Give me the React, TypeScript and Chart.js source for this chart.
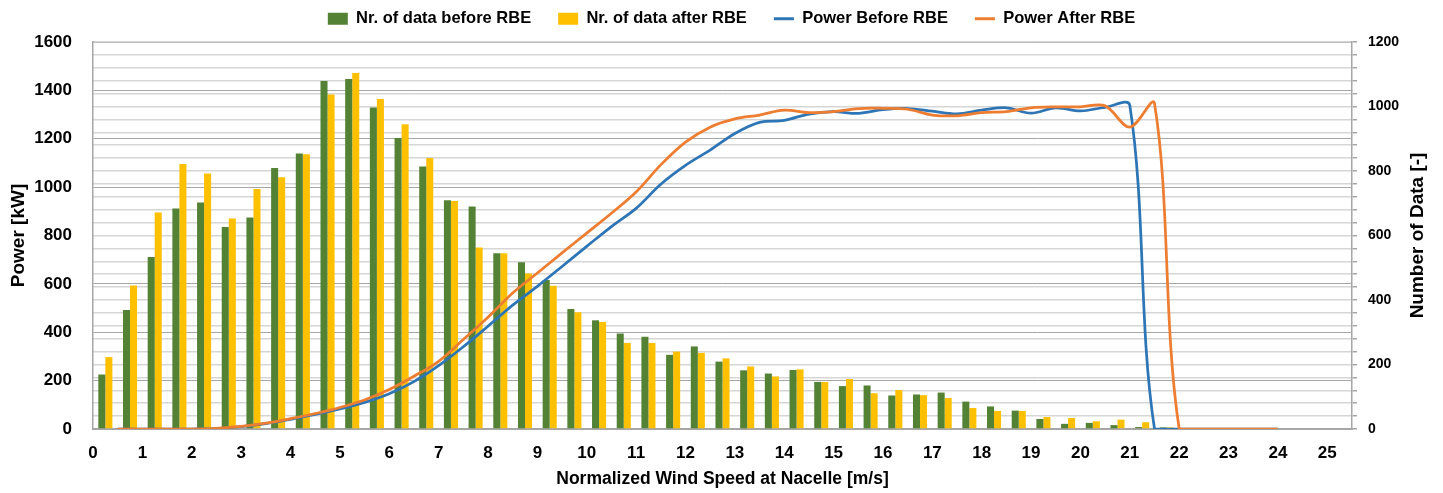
import React, { useEffect, useRef } from 'react';
import { Chart, registerables } from 'chart.js';

Chart.register(...registerables);

// ---- data ----
const binCenters = [
  0.25, 0.75, 1.25, 1.75, 2.25, 2.75, 3.25, 3.75, 4.25, 4.75, 5.25, 5.75,
  6.25, 6.75, 7.25, 7.75, 8.25, 8.75, 9.25, 9.75, 10.25, 10.75, 11.25, 11.75,
  12.25, 12.75, 13.25, 13.75, 14.25, 14.75, 15.25, 15.75, 16.25, 16.75, 17.25, 17.75,
  18.25, 18.75, 19.25, 19.75, 20.25, 20.75, 21.25, 21.75,
];
const countBefore = [
  169, 369, 533, 684, 702, 626, 656, 809, 854, 1079, 1085, 997,
  902, 814, 709, 690, 545, 517, 462, 372, 337, 296, 286, 230,
  256, 209, 182, 172, 183, 146, 133, 135, 104, 107, 113, 85,
  70, 57, 31, 16, 19, 12, 6, 5,
];
const countAfter = [
  223, 445, 671, 822, 792, 653, 744, 781, 852, 1037, 1104, 1023,
  945, 840, 707, 563, 545, 482, 444, 362, 332, 267, 267, 240,
  236, 219, 194, 163, 185, 146, 155, 111, 121, 105, 96, 65,
  56, 56, 37, 34, 24, 29, 21, 5,
];
const powerSpeeds = [
  0.5, 1.0, 1.5, 2.0, 2.5, 3.0, 3.5, 4.0, 4.5, 5.0, 5.5, 6.0,
  6.5, 7.0, 7.5, 8.0, 8.5, 9.0, 9.5, 10.0, 10.5, 11.0, 11.5, 12.0,
  12.5, 13.0, 13.5, 14.0, 14.5, 15.0, 15.5, 16.0, 16.5, 17.0, 17.5, 18.0,
  18.5, 19.0, 19.5, 20.0, 20.5, 21.0, 21.5, 22.0, 22.5, 23.0, 23.5, 24.0,
];
const powerBefore = [
  0, 0, 0, 0, 2, 10, 22, 40, 60, 83, 110, 146,
  196, 262, 340, 425, 512, 590, 672, 755, 837, 912, 1012, 1090,
  1153, 1222, 1268, 1276, 1302, 1312, 1305, 1320, 1325, 1314, 1303, 1318,
  1328, 1306, 1328, 1315, 1330, 1338, 0, 0, 0, 0, 0, 0,
];
const powerAfter = [
  0, 0, 0, 0, 3, 11, 24, 43, 64, 89, 120, 163,
  218, 280, 370, 462, 562, 645, 728, 810, 892, 980, 1092, 1186,
  1248, 1282, 1298, 1318, 1308, 1312, 1325, 1326, 1322, 1298, 1295, 1308,
  1312, 1328, 1332, 1332, 1336, 1248, 1346, 0, 0, 0, 0, 0,
];
const seriesNames = [
  'Nr. of data before RBE',
  'Nr. of data after RBE',
  'Power Before RBE',
  'Power After RBE',
];
const xAxisTitle = 'Normalized Wind Speed at Nacelle [m/s]';
const leftAxisTitle = 'Power [kW]';
const rightAxisTitle = 'Number of Data [-]';

const FONT = '"Liberation Sans", Arial, sans-serif';

const legendNudge = {
  id: 'legendNudge',
  afterLayout(chart: any) {
    const lg = chart.legend;
    if (lg) {
      lg.top -= 5;
      lg.bottom -= 5;
      lg.left += 10;
      lg.right += 10;
    }
  },
};

const rightTitlePlugin = {
  id: 'rightTitlePlugin',
  afterDraw(chart: any) {
    const { ctx, chartArea } = chart;
    ctx.save();
    ctx.translate(1418, (chartArea.top + chartArea.bottom) / 2);
    ctx.rotate(-Math.PI / 2);
    ctx.font = `bold 19px ${FONT}`;
    ctx.fillStyle = '#000';
    ctx.textAlign = 'center';
    ctx.textBaseline = 'middle';
    ctx.fillText(rightAxisTitle, 0, 0);
    ctx.restore();
  },
};

export default function App() {
  const ref = useRef<HTMLCanvasElement | null>(null);

  useEffect(() => {
    document.body.style.margin = '0';
    if (!ref.current) return;
    Chart.defaults.font.family = FONT;
    Chart.defaults.color = '#000';

    const chart = new Chart(ref.current, {
      type: 'bar',
      data: {
        datasets: [
          {
            type: 'bar',
            label: seriesNames[0],
            data: binCenters.map((x, i) => ({ x, y: countBefore[i] })),
            backgroundColor: '#548235',
            borderColor: '#548235',
            borderWidth: 0,
            yAxisID: 'y1',
            categoryPercentage: 0.57,
            barPercentage: 1.0,
            order: 3,
          },
          {
            type: 'bar',
            label: seriesNames[1],
            data: binCenters.map((x, i) => ({ x, y: countAfter[i] })),
            backgroundColor: '#FFC000',
            borderColor: '#FFC000',
            borderWidth: 0,
            yAxisID: 'y1',
            categoryPercentage: 0.57,
            barPercentage: 1.0,
            order: 4,
          },
          {
            type: 'line',
            label: seriesNames[2],
            data: powerSpeeds.map((x, i) => ({ x, y: powerBefore[i] })),
            borderColor: '#2E75B6',
            backgroundColor: '#2E75B6',
            borderWidth: 2.75,
            pointRadius: 0,
            tension: 0.35,
            fill: false,
            yAxisID: 'y',
            order: 1,
          },
          {
            type: 'line',
            label: seriesNames[3],
            data: powerSpeeds.map((x, i) => ({ x, y: powerAfter[i] })),
            borderColor: '#ED7D31',
            backgroundColor: '#ED7D31',
            borderWidth: 2.75,
            pointRadius: 0,
            tension: 0.35,
            fill: false,
            yAxisID: 'y',
            order: 0,
          },
        ] as any,
      },
      options: {
        responsive: false,
        animation: false,
        events: [],
        layout: { padding: { top: -11.5, left: 0, right: 0, bottom: 0 } },
        plugins: {
          tooltip: { enabled: false },
          legend: {
            position: 'top',
            labels: {
              usePointStyle: true,
              pointStyleWidth: 20,
              boxHeight: 12,
              padding: 27,
              color: '#000',
              font: { size: 16.5, weight: 'bold', family: FONT },
              sort: (a: any, b: any) => a.datasetIndex - b.datasetIndex,
              generateLabels: (c: any) => {
                const items = (Chart.defaults.plugins.legend.labels as any).generateLabels(c);
                return items.map((it: any) => ({
                  ...it,
                  pointStyle: it.datasetIndex < 2 ? 'rect' : 'line',
                  lineWidth: it.datasetIndex < 2 ? 0 : 3,
                }));
              },
            },
          },
        },
        scales: {
          x: {
            type: 'linear',
            min: 0,
            max: 25.5,
            offset: false,
            grid: { display: false, offset: false, drawTicks: false },
            border: { display: true, color: '#a6a6a6', width: 2 },
            ticks: {
              stepSize: 1,
              includeBounds: false,
              autoSkip: false,
              maxRotation: 0,
              padding: 14,
              color: '#000',
              font: { size: 17, weight: 'bold' },
              callback: (v: any) => String(v),
            },
            title: {
              display: true,
              text: xAxisTitle,
              color: '#000',
              font: { size: 17.5, weight: 'bold' },
              padding: { top: 0, bottom: 3 },
            },
            afterFit: (s: any) => {
              s.height = 64;
            },
          },
          y: {
            type: 'linear',
            position: 'left',
            min: 0,
            max: 1600,
            grid: { color: '#a6a6a6', lineWidth: 1, drawTicks: false },
            border: { display: true, color: '#a6a6a6', width: 1.5 },
            ticks: {
              stepSize: 200,
              padding: 21,
              color: '#000',
              font: { size: 17, weight: 'bold' },
              callback: (v: any) => String(v),
            },
            title: {
              display: true,
              text: leftAxisTitle,
              color: '#000',
              font: { size: 19, weight: 'bold' },
              padding: { top: 7, bottom: 0 },
            },
            afterFit: (s: any) => {
              s.width = 93;
            },
          },
          y1: {
            type: 'linear',
            position: 'right',
            min: 0,
            max: 1200,
            grid: {
              color: '#d6d6d6',
              lineWidth: 1.5,
              drawOnChartArea: true,
              drawTicks: true,
              tickLength: 5,
              tickColor: '#a6a6a6',
            },
            border: { display: true, color: '#a6a6a6', width: 1.5 },
            ticks: {
              stepSize: 40,
              autoSkip: false,
              padding: 11,
              color: '#000',
              font: { size: 14, weight: 'bold' },
              callback: (v: any) => (Number(v) % 200 === 0 ? String(v) : ''),
            },
            title: { display: false },
            afterFit: (s: any) => {
              s.width = 91;
            },
          },
        },
      } as any,
      plugins: [legendNudge, rightTitlePlugin],
    });

    return () => {
      chart.destroy();
    };
  }, []);

  return (
    <div style={{ width: 1443, height: 493 }}>
      <canvas ref={ref} width={1443} height={493} style={{ display: 'block' }} />
    </div>
  );
}
